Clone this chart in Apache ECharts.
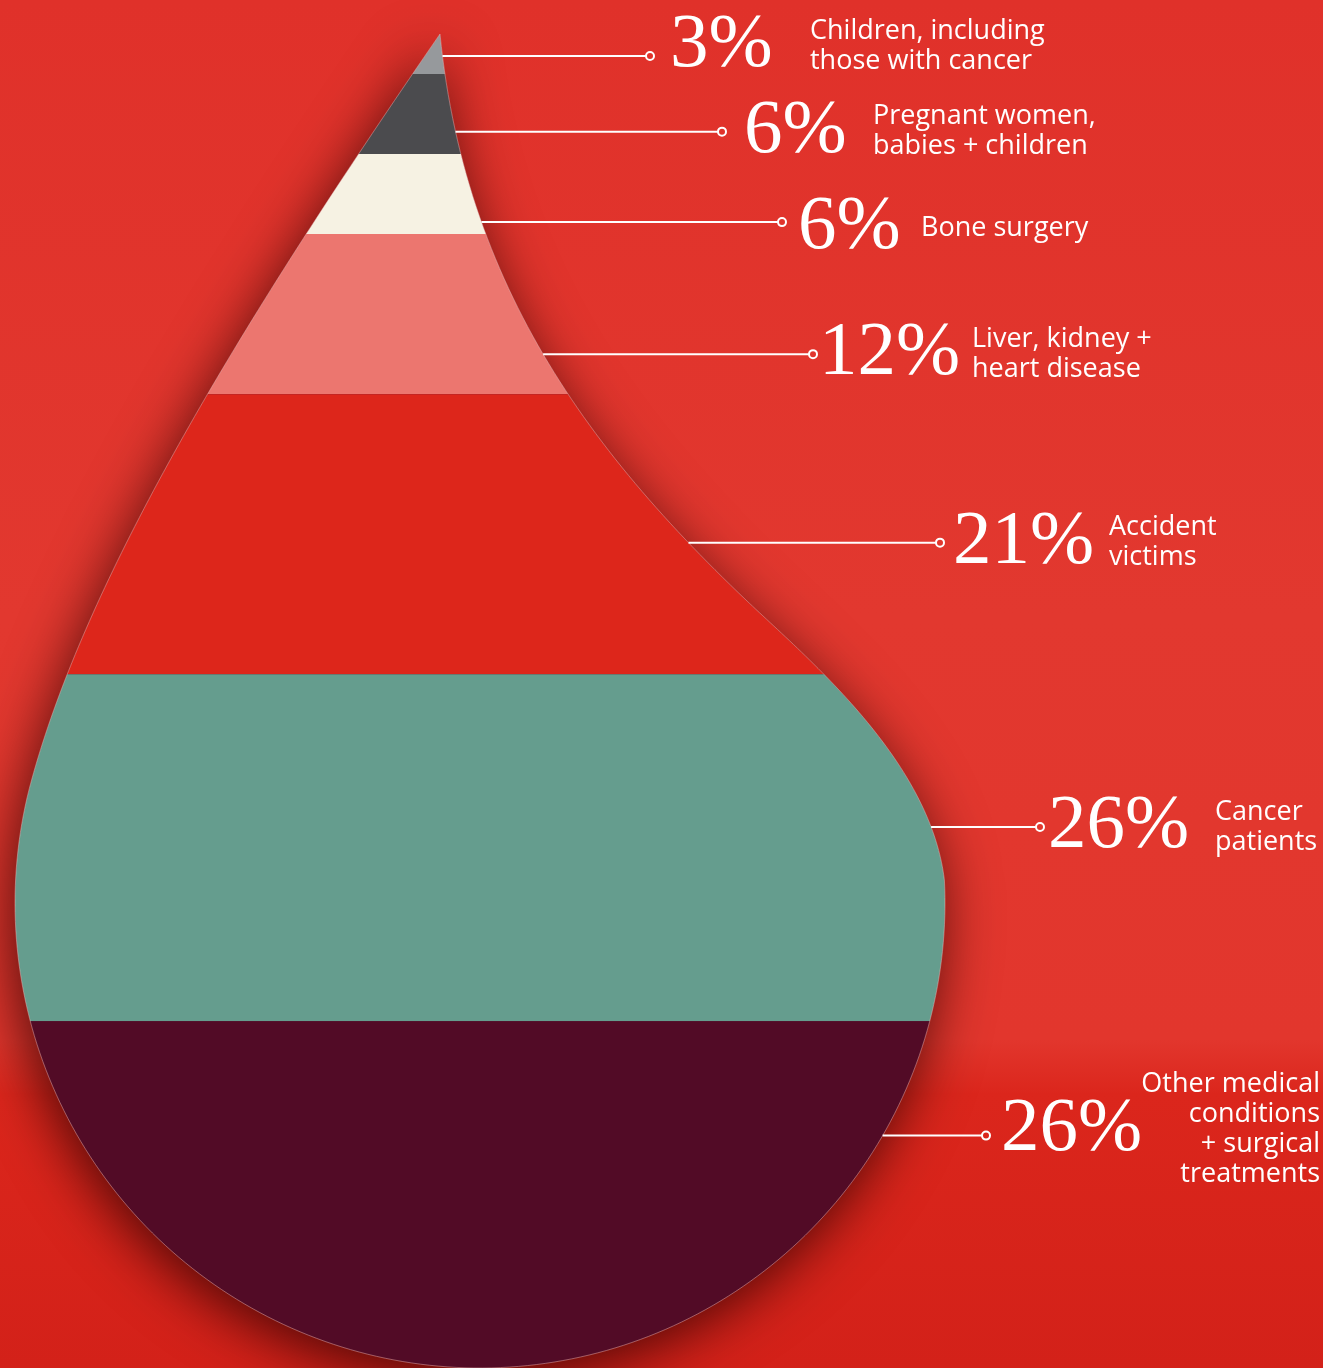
<!DOCTYPE html>
<html>
<head>
<meta charset="utf-8">
<title>Who receives donated blood</title>
<script src="https://cdn.jsdelivr.net/npm/echarts@6/dist/echarts.min.js"></script>
<style>
  html, body { margin: 0; padding: 0; background: #e1342b; }
  #chart { width: 1323px; height: 1368px; }
</style>
</head>
<body>
<div id="chart"></div>
<script>
// data
const groups = [
  'Children, including\nthose with cancer',
  'Pregnant women,\nbabies + children',
  'Bone surgery',
  'Liver, kidney +\nheart disease',
  'Accident\nvictims',
  'Cancer\npatients',
  'Other medical\nconditions\n+ surgical\ntreatments'
];
const shares = [3, 6, 6, 12, 21, 26, 26];

// palette, top band first
const bandColors = ['#96999c', '#4b4b4e', '#f6f2e3', '#ec766f', '#dd261b', '#659d8e', '#520b26'];

// label layout: how far down its band each connector sits, where it ends,
// where the number and the text start, and a small nudge for the text block
const connectorAt = [0.55, 0.72, 0.85, 0.75, 0.53, 0.44, 0.33];
const connectorEndX = [650, 722, 782, 813, 940, 1040, 986];
const numberX = [670, 744, 798, 819, 953, 1048, 1001];
const descX = [810, 873, 921, 972, 1109, 1215, 1320];
const textNudge = [-10, 0, 6, 0, 0, 0, -6];

// drop outline, drawn in its own 930 x 1334 box (tip at the top), as bezier pieces
const DROP_W = 930, DROP_H = 1334;
const dropRightUpper = [[425, 0], [450, 250], [573.5, 416], [731, 566]];
const dropRightLower = [[731, 566], [794, 626], [915, 726], [929.4, 846]];
const dropLeftSide = [[425, 0], [218, 300], [71.4, 546], [16.6, 746]];
const dropBowl = { cx: 465, cy: 869, r: 465 };

// cumulative start / end of every band
let acc = 0;
const bands = shares.map((v, i) => {
  const row = [i, acc, acc + v];
  acc += v;
  return row;
});

function bezier(c, n) {
  const out = [];
  for (let s = 0; s <= n; s++) {
    const t = s / n, u = 1 - t;
    const a = u * u * u, b = 3 * u * u * t, d = 3 * u * t * t, e = t * t * t;
    out.push([0, 1].map(k => a * c[0][k] + b * c[1][k] + d * c[2][k] + e * c[3][k]));
  }
  return out;
}

function buildOutline() {
  const right = bezier(dropRightUpper, 60).slice(0, -1).concat(bezier(dropRightLower, 60));
  const left = bezier(dropLeftSide, 80).reverse();
  const { cx, cy, r } = dropBowl;
  const e0 = right[right.length - 1], e1 = left[0];
  const a0 = Math.atan2(e0[1] - cy, e0[0] - cx);
  let a1 = Math.atan2(e1[1] - cy, e1[0] - cx);
  if (a1 < a0) a1 += Math.PI * 2;
  const arc = [];
  const n = 180;
  for (let i = 1; i < n; i++) {
    const a = a0 + (a1 - a0) * i / n;
    arc.push([cx + r * Math.cos(a), cy + r * Math.sin(a)]);
  }
  return right.concat(arc, left.slice(0, -1));
}
const outlineBox = buildOutline();

function toPixels(api) {
  return outlineBox.map(p => api.coord([p[0] / DROP_W, p[1] / DROP_H * 100]));
}

// keep the part of a polygon above (or below) a horizontal line
function clipHalf(poly, yCut, keepAbove) {
  const out = [];
  for (let i = 0; i < poly.length; i++) {
    const a = poly[i], b = poly[(i + 1) % poly.length];
    const ina = keepAbove ? a[1] <= yCut : a[1] >= yCut;
    const inb = keepAbove ? b[1] <= yCut : b[1] >= yCut;
    if (ina) out.push(a);
    if (ina !== inb) {
      const t = (yCut - a[1]) / (b[1] - a[1]);
      out.push([a[0] + (b[0] - a[0]) * t, yCut]);
    }
  }
  return out;
}

function rightEdgeX(poly, y) {
  let best = -Infinity;
  for (let i = 0; i < poly.length; i++) {
    const a = poly[i], b = poly[(i + 1) % poly.length];
    if (a[1] === b[1] || (a[1] - y) * (b[1] - y) > 0) continue;
    const x = a[0] + (b[0] - a[0]) * (y - a[1]) / (b[1] - a[1]);
    if (x > best) best = x;
  }
  return best;
}

const NUM_FONT = '77px "Liberation Serif"';
const DESC_FONT = '27px "Open Sans"';

const chart = echarts.init(document.getElementById('chart'));

const option = {
  animation: false,
  backgroundColor: {
    type: 'linear', x: 0, y: 0, x2: 0, y2: 1,
    colorStops: [
      { offset: 0, color: '#e0312a' },
      { offset: 0.45, color: '#e2382f' },
      { offset: 0.76, color: '#e2362d' },
      { offset: 0.8, color: '#db261c' },
      { offset: 1, color: '#d32119' }
    ]
  },
  grid: { left: 15, top: 34, width: DROP_W, height: DROP_H },
  xAxis: { type: 'value', min: 0, max: 1, show: false },
  yAxis: { type: 'value', min: 0, max: 100, inverse: true, show: false },
  series: [
    {
      // drop body with its shadow
      type: 'custom',
      silent: true,
      clip: false,
      z: 1,
      data: [[0, 0, 100]],
      renderItem: function (params, api) {
        return {
          type: 'polygon',
          shape: { points: toPixels(api) },
          style: {
            fill: '#520b26',
            shadowBlur: 55,
            shadowColor: 'rgba(35,0,0,0.75)',
            shadowOffsetX: -4,
            shadowOffsetY: 12
          }
        };
      }
    },
    {
      name: 'Share of donated blood',
      type: 'custom',
      silent: true,
      clip: false,
      z: 2,
      data: bands,
      renderItem: function (params, api) {
        const i = api.value(0);
        const y0 = api.coord([0, api.value(1)])[1];
        const y1 = api.coord([0, api.value(2)])[1];
        let poly = toPixels(api);
        if (i > 0) poly = clipHalf(poly, y0, false);
        if (i < shares.length - 1) poly = clipHalf(poly, y1, true);
        return {
          type: 'polygon',
          shape: { points: poly },
          style: { fill: bandColors[i] }
        };
      }
    },
    {
      // thin light rim
      type: 'custom',
      silent: true,
      clip: false,
      z: 3,
      data: [[0, 0, 100]],
      renderItem: function (params, api) {
        return {
          type: 'polygon',
          shape: { points: toPixels(api) },
          style: { fill: 'none', stroke: 'rgba(255,190,185,0.45)', lineWidth: 1 }
        };
      }
    },
    {
      // connectors and labels
      type: 'custom',
      silent: true,
      clip: false,
      z: 4,
      data: bands,
      renderItem: function (params, api) {
        const i = api.value(0);
        const start = api.value(1), end = api.value(2);
        const y = api.coord([0, start + (end - start) * connectorAt[i]])[1];
        const x0 = rightEdgeX(toPixels(api), y);
        const x1 = connectorEndX[i];
        const ty = y + textNudge[i];
        const last = i === shares.length - 1;
        return {
          type: 'group',
          children: [
            {
              type: 'line',
              shape: { x1: x0, y1: y, x2: x1 - 4, y2: y },
              style: { stroke: '#ffffff', lineWidth: 2 }
            },
            {
              type: 'circle',
              shape: { cx: x1, cy: y, r: 4 },
              style: { fill: 'none', stroke: '#ffffff', lineWidth: 2 }
            },
            {
              type: 'text',
              x: numberX[i], y: ty,
              style: {
                text: shares[i] + '%', font: NUM_FONT, fill: '#ffffff',
                align: 'left', verticalAlign: 'middle',
                textAlign: 'left', textVerticalAlign: 'middle'
              }
            },
            {
              type: 'text',
              x: descX[i], y: ty,
              style: {
                text: groups[i], font: DESC_FONT, fill: '#ffffff', lineHeight: 30,
                align: last ? 'right' : 'left', verticalAlign: 'middle',
                textAlign: last ? 'right' : 'left', textVerticalAlign: 'middle'
              }
            }
          ]
        };
      }
    }
  ]
};

chart.setOption(option);
</script>
</body>
</html>
